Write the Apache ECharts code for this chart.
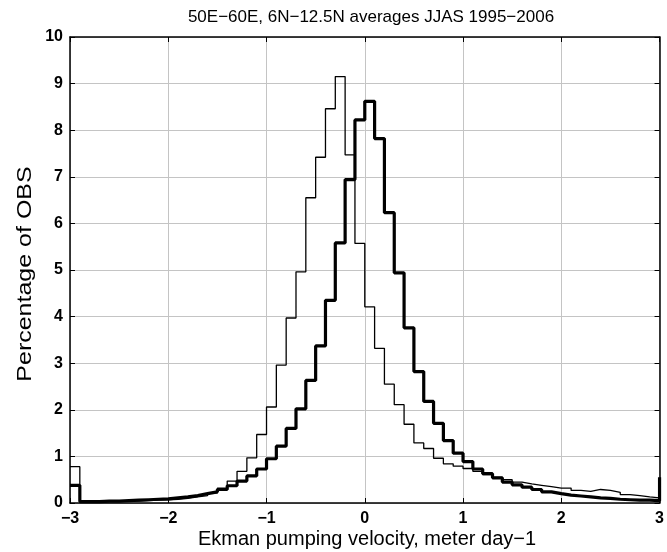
<!DOCTYPE html>
<html>
<head>
<meta charset="utf-8">
<script src="https://cdn.jsdelivr.net/npm/echarts@6/dist/echarts.min.js"></script>
<style>
html,body{margin:0;padding:0;background:#fff;}
#chart{width:667px;height:552px;}
</style>
</head>
<body>
<div id="chart"></div>
<script>
// Bin left edges (stairs start points), -3 to 3 in 0.1 steps
var binStarts = [];
for (var i = 0; i <= 60; i++) binStarts.push(Math.round((-3 + 0.1 * i) * 10) / 10);

// Thin histogram (percentage of obs)
var thinValues = [
  0.78, 0.02, 0.02, 0.03, 0.03, 0.04, 0.04, 0.05, 0.06, 0.07,   // -3.0 .. -2.1
  0.08, 0.10, 0.13, 0.16, 0.22, 0.32, 0.47, 0.68, 0.97, 1.47,   // -2.0 .. -1.1
  2.06, 2.96, 3.97, 4.96, 6.55, 7.42, 8.46, 9.15, 7.47, 5.57,   // -1.0 .. -0.1
  4.21, 3.32, 2.55, 2.11, 1.69, 1.29, 1.17, 0.96, 0.84, 0.79,   //  0.0 .. 0.9
  0.74, 0.68, 0.61, 0.55, 0.50, 0.45, 0.41, 0.38, 0.35, 0.32,   //  1.0 .. 1.9
  0.32, 0.27, 0.25, 0.29, 0.27, 0.23, 0.18, 0.16, 0.13, 0.11,   //  2.0 .. 2.9
  0.30                                                          //  3.0
];

// Thick histogram
var thickValues = [
  0.38, 0.03, 0.03, 0.04, 0.04, 0.05, 0.06, 0.07, 0.08, 0.09,   // -3.0 .. -2.1
  0.11, 0.13, 0.16, 0.20, 0.24, 0.29, 0.37, 0.47, 0.58, 0.73,   // -2.0 .. -1.1
  0.95, 1.22, 1.60, 2.02, 2.63, 3.37, 4.35, 5.58, 6.94, 8.22,   // -1.0 .. -0.1
  8.62, 7.82, 6.23, 4.94, 3.76, 2.82, 2.18, 1.71, 1.34, 1.07,   //  0.0 .. 0.9
  0.89, 0.73, 0.63, 0.54, 0.45, 0.39, 0.34, 0.29, 0.24, 0.20,   //  1.0 .. 1.9
  0.17, 0.15, 0.13, 0.11, 0.10, 0.08, 0.07, 0.06, 0.06, 0.05,   //  2.0 .. 2.9
  0.55                                                          //  3.0
];

var xTicks = [-3, -2, -1, 0, 1, 2, 3];
var yTicks = [0, 1, 2, 3, 4, 5, 6, 7, 8, 9, 10];

var titleText = '50E\u221260E, 6N\u221212.5N averages JJAS 1995\u22122006';
var xName = 'Ekman pumping velocity, meter day\u22121';
var yName = 'Percentage of OBS';

function pairs(xs, ys) { return xs.map(function (x, i) { return [x, ys[i]]; }); }
function fmt(v) { return String(v).replace('-', '\u2212'); }

var FONT = 'Liberation Sans, Arial, Helvetica, sans-serif';

var chart = echarts.init(document.getElementById('chart'), null, { renderer: 'canvas' });
chart.setOption({
  animation: false,
  backgroundColor: '#ffffff',
  title: {
    text: titleText,
    left: 366, top: 4,
    textAlign: 'center',
    textStyle: { fontFamily: FONT, fontSize: 17, fontWeight: 'normal', color: '#000' }
  },
  graphic: [{
    type: 'text', x: 367, y: 539, silent: true,
    style: { text: xName, fontFamily: FONT, fontSize: 20, fill: '#000', align: 'center', verticalAlign: 'middle' }
  }, {
    type: 'text', x: 25, y: 274, rotation: Math.PI / 2, scaleX: 1.25, silent: true,
    style: { text: yName, fontFamily: FONT, fontSize: 20, fill: '#000', align: 'center', verticalAlign: 'middle' }
  }],
  grid: { left: 70, right: 5, top: 37, bottom: 49, containLabel: false },
  xAxis: [{
    type: 'value', min: xTicks[0], max: xTicks[xTicks.length - 1], interval: 1,
    position: 'bottom',
    axisLine: { show: true, onZero: false, lineStyle: { color: '#000', width: 1.5 } },
    axisTick: { show: true, inside: true, length: 5, lineStyle: { color: '#000' } },
    axisLabel: { formatter: fmt, margin: 8, fontFamily: FONT, fontSize: 16, fontWeight: 'bold', color: '#000' },
    splitLine: { show: true, lineStyle: { color: '#c4c4c4', width: 1 } }
  }, {
    type: 'value', min: xTicks[0], max: xTicks[xTicks.length - 1], interval: 1,
    position: 'top',
    axisLine: { show: true, onZero: false, lineStyle: { color: '#000', width: 1.5 } },
    axisTick: { show: true, inside: true, length: 5, lineStyle: { color: '#000' } },
    axisLabel: { show: false },
    splitLine: { show: false }
  }],
  yAxis: [{
    type: 'value', min: yTicks[0], max: yTicks[yTicks.length - 1], interval: 1,
    position: 'left',
    axisLine: { show: true, onZero: false, lineStyle: { color: '#000', width: 1.5 } },
    axisTick: { show: true, inside: true, length: 5, lineStyle: { color: '#000' } },
    axisLabel: { formatter: fmt, margin: 7, fontFamily: FONT, fontSize: 16, fontWeight: 'bold', color: '#000' },
    splitLine: { show: true, lineStyle: { color: '#c4c4c4', width: 1 } }
  }, {
    type: 'value', min: yTicks[0], max: yTicks[yTicks.length - 1], interval: 1,
    position: 'right',
    axisLine: { show: true, onZero: false, lineStyle: { color: '#000', width: 1.5 } },
    axisTick: { show: true, inside: true, length: 5, lineStyle: { color: '#000' } },
    axisLabel: { show: false },
    splitLine: { show: false }
  }],
  series: [{
    name: 'thin', type: 'line', step: 'end', showSymbol: false, symbol: 'none',
    xAxisIndex: 0, yAxisIndex: 0,
    lineStyle: { color: '#000', width: 1.3 },
    data: pairs(binStarts, thinValues), z: 3
  }, {
    name: 'thick', type: 'line', step: 'end', showSymbol: false, symbol: 'none',
    xAxisIndex: 0, yAxisIndex: 0,
    lineStyle: { color: '#000', width: 3.2 },
    data: pairs(binStarts, thickValues), z: 4
  }]
});
</script>
</body>
</html>
